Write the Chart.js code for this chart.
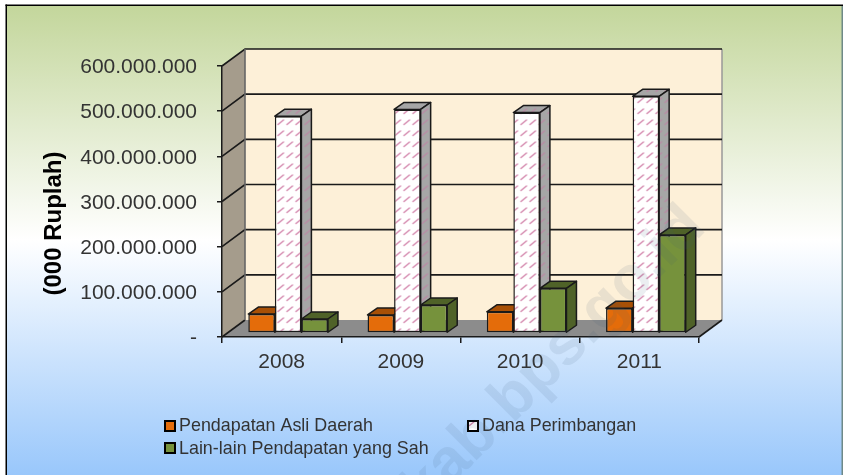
<!DOCTYPE html>
<html><head><meta charset="utf-8">
<style>html,body{margin:0;padding:0;background:#fff;overflow:hidden}canvas{display:block}</style>
<script src="https://cdn.jsdelivr.net/npm/chart.js@4"></script>
</head><body><canvas id="c" width="843" height="475"></canvas>
<script>
const years = ['2008','2009','2010','2011'];
const pendapatanAsliDaerah = [42000000,40000000,47000000,55000000];
const danaPerimbangan = [480000000,495000000,488000000,524000000];
const lainLain = [31000000,62000000,99000000,217000000];
const seriesNames = ['Pendapatan Asli Daerah','Dana Perimbangan','Lain-lain Pendapatan yang Sah'];
const yAxisTitle = '(000 Ruplah)';
const watermark = 'kab.bps.go.id';

function hatch(base,ink){
  const p=document.createElement('canvas');p.width=9;p.height=11;
  const g=p.getContext('2d');
  g.fillStyle=base;g.fillRect(0,0,9,11);
  g.strokeStyle=ink;g.lineWidth=1.4;g.lineCap='round';
  g.beginPath();g.moveTo(1.5,7.5);g.lineTo(7,3);g.stroke();
  return document.createElement('canvas').getContext('2d').createPattern(p,'repeat');
}
const pinkFront=hatch('#ffffff','#d487ad'), pinkSide=hatch('#a6a6a6','#b98ca5');
const faces=[{side:'#a85006',top:'#a85006'},{side:pinkSide,top:pinkSide},{side:'#4f6228',top:'#4f6228'}];

const WALL={dx:23,dy:-17}, BAR={tx:6.5,ty:-4,dx:10,dy:-7}, INK='#1a1a1a';

const scene={
  id:'scene',
  beforeDraw(chart){
    const c=chart.ctx,W=chart.width,H=chart.height;
    const {left:l,right:r,top:t,bottom:b}=chart.chartArea;
    const {dx,dy}=WALL;
    c.save();
    c.fillStyle='#fff';c.fillRect(0,0,W,H);
    const g=c.createLinearGradient(0,5,0,H);
    g.addColorStop(0,'#c3d69b');g.addColorStop(.5,'#ffffff');g.addColorStop(1,'#99c7fb');
    c.fillStyle=g;c.fillRect(6,5,W-6,H-5);
    c.fillStyle='#000';c.fillRect(5.5,4.5,W,1.5);c.fillRect(5.5,4.5,1.5,H);
    c.fillStyle='#6f8a88';c.fillRect(W-1.5,6,1.5,H);
    c.fillStyle='#fdf0d8';c.fillRect(l+dx,t+dy,r-l,b-t);
    c.fillStyle='#a59c8c';
    c.beginPath();c.moveTo(l,t);c.lineTo(l+dx,t+dy);c.lineTo(l+dx,b+dy);c.lineTo(l,b);c.closePath();c.fill();
    c.fillStyle='#8c8c8c';
    c.beginPath();c.moveTo(l,b);c.lineTo(l+dx,b+dy);c.lineTo(r+dx,b+dy);c.lineTo(r,b);c.closePath();c.fill();
    c.strokeStyle='#999';c.lineWidth=1.5;
    c.beginPath();c.moveTo(r+dx,t+dy);c.lineTo(r+dx,b+dy);c.stroke();
    c.strokeStyle=INK;c.lineWidth=1.6;
    chart.scales.y.ticks.forEach(k=>{
      const y=chart.scales.y.getPixelForValue(k.value);
      c.beginPath();c.moveTo(l,y);c.lineTo(l+dx,y+dy);
      if(k.value>0){c.lineTo(r+dx,y+dy);}
      c.stroke();
    });
    c.strokeStyle='#666';
    c.beginPath();c.moveTo(l+dx,t+dy);c.lineTo(l+dx,b+dy);c.stroke();
    c.strokeStyle=INK;
    c.beginPath();c.moveTo(r,b);c.lineTo(r+dx,b+dy);c.stroke();
    c.restore();
  },
  // Draw the series left to right so each bar's front covers its neighbour's side face.
  beforeDatasetsDraw(chart){
    const c=chart.ctx;
    chart.getSortedVisibleDatasetMetas().forEach(meta=>{
      const f=faces[meta.index];
      c.save();c.translate(BAR.tx,BAR.ty);
      c.lineWidth=1.5;c.strokeStyle=INK;c.lineJoin='round';
      meta.data.forEach(e=>{
        const p=e.getProps(['x','y','base','width'],true);
        const L=p.x-p.width/2,R=p.x+p.width/2,T=p.y,B=p.base;
        c.fillStyle=f.top;
        c.beginPath();c.moveTo(L,T);c.lineTo(L+BAR.dx,T+BAR.dy);c.lineTo(R+BAR.dx,T+BAR.dy);c.lineTo(R,T);c.closePath();c.fill();c.stroke();
        c.fillStyle=f.side;
        c.beginPath();c.moveTo(R,T);c.lineTo(R+BAR.dx,T+BAR.dy);c.lineTo(R+BAR.dx,B+BAR.dy);c.lineTo(R,B);c.closePath();c.fill();c.stroke();
      });
      meta.controller.draw();
      c.restore();
    });
    return false;
  },
  afterDraw(chart){
    const c=chart.ctx;
    c.save();
    const items=[[165,426,0],[468,426,1],[165,448,2]];
    c.font='17.9px "Liberation Sans"';c.textBaseline='middle';c.textAlign='left';
    items.forEach(([x,y,i])=>{
      const ds=chart.data.datasets[i];
      c.fillStyle=ds.backgroundColor;c.fillRect(x,y-5,10,10);
      c.strokeStyle='#000';c.lineWidth=2;c.strokeRect(x,y-5,10,10);
      c.fillStyle='#333';c.fillText(ds.label,x+14,y+(i===2?1:0));
    });
    c.translate(425,512);c.rotate(-Math.PI/4);
    c.font='bold 62px "Liberation Sans"';c.fillStyle='rgba(60,90,120,0.10)';
    c.textBaseline='alphabetic';c.fillText(watermark,0,0);
    c.restore();
  }
};

new Chart(document.getElementById('c'),{
  type:'bar',
  data:{labels:years,datasets:[
    {label:seriesNames[0],data:pendapatanAsliDaerah,backgroundColor:'#e46c0a'},
    {label:seriesNames[1],data:danaPerimbangan,backgroundColor:pinkFront},
    {label:seriesNames[2],data:lainLain,backgroundColor:'#76923c'}
  ].map(d=>({...d,borderColor:INK,borderWidth:1.5,borderSkipped:false,categoryPercentage:.668,barPercentage:1}))},
  plugins:[scene],
  options:{
    responsive:false,animation:false,
    layout:{padding:{left:40,top:66,right:144,bottom:78},autoPadding:false},
    plugins:{legend:{display:false},tooltip:{enabled:false}},
    scales:{
      x:{
        afterFit(s){s.height=60;},
        grid:{drawOnChartArea:false,drawTicks:true,tickLength:6,color:INK,lineWidth:1.5},
        border:{color:INK,width:1.5},
        ticks:{color:'#333',font:{family:'"Liberation Sans"',size:21},padding:7,maxRotation:0,autoSkip:false}
      },
      y:{
        min:0,max:600000000,
        afterFit(s){
          s.width=182;
          if(!s.drawTitle.shifted){
            const draw=s.drawTitle;
            s.drawTitle=function(){const c=this.ctx;c.save();c.translate(0,22);draw.call(this);c.restore();};
            s.drawTitle.shifted=true;
          }
        },
        grid:{drawOnChartArea:false,drawTicks:true,tickLength:5,color:INK,lineWidth:1.5},
        border:{color:INK,width:1.5},
        title:{display:true,text:yAxisTitle,color:'#000',font:{family:'"Liberation Sans"',size:24,weight:'bold'},padding:0},
        ticks:{stepSize:100000000,color:'#333',padding:20,autoSkip:false,labelOffset:1.5,
          font:{family:'"Liberation Sans"',size:21},
          callback:v=>v===0?'-':String(v).replace(/\B(?=(\d{3})+$)/g,'.')}
      }
    }
  }
});
</script></body></html>
